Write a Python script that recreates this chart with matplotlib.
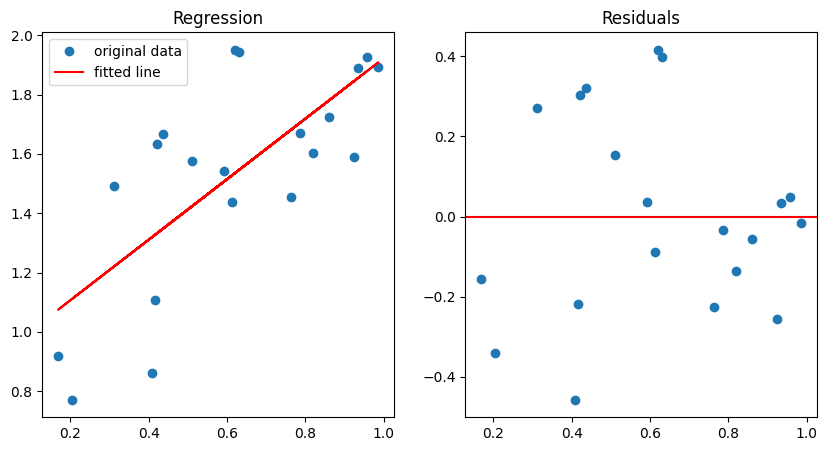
import numpy as np
import matplotlib
matplotlib.use("Agg")
import matplotlib.pyplot as plt

# values (unsorted, as the sample came)
x = np.array([0.612, 0.169, 0.956, 0.417, 0.785, 0.312, 0.925, 0.511, 0.205, 0.861,
              0.420, 0.986, 0.591, 0.409, 0.764, 0.619, 0.435, 0.935, 0.820, 0.631])
y = np.array([1.439, 0.920, 1.927, 1.109, 1.671, 1.493, 1.590, 1.577, 0.772, 1.725,
              1.634, 1.893, 1.543, 0.863, 1.456, 1.951, 1.668, 1.890, 1.604, 1.944])


def main():
    slope, intercept = np.polyfit(x, y, 1)
    fit = intercept + slope * x
    residuals = y - fit

    fig, (ax1, ax2) = plt.subplots(1, 2, figsize=(8.27, 4.51), dpi=100)
    fig.subplots_adjust(left=0.0512, right=0.9883, bottom=0.0754, top=0.9284, wspace=0.2017)

    ax1.plot(x, y, 'o', label='original data')
    ax1.plot(x, fit, 'r', label='fitted line')
    ax1.set_title("Regression")
    ax1.legend(loc='upper left')

    ax2.plot(x, residuals, 'o')
    ax2.axhline(0, color='r')
    ax2.set_title("Residuals")

    fig.savefig("out.png", dpi=100)


if __name__ == "__main__":
    main()
